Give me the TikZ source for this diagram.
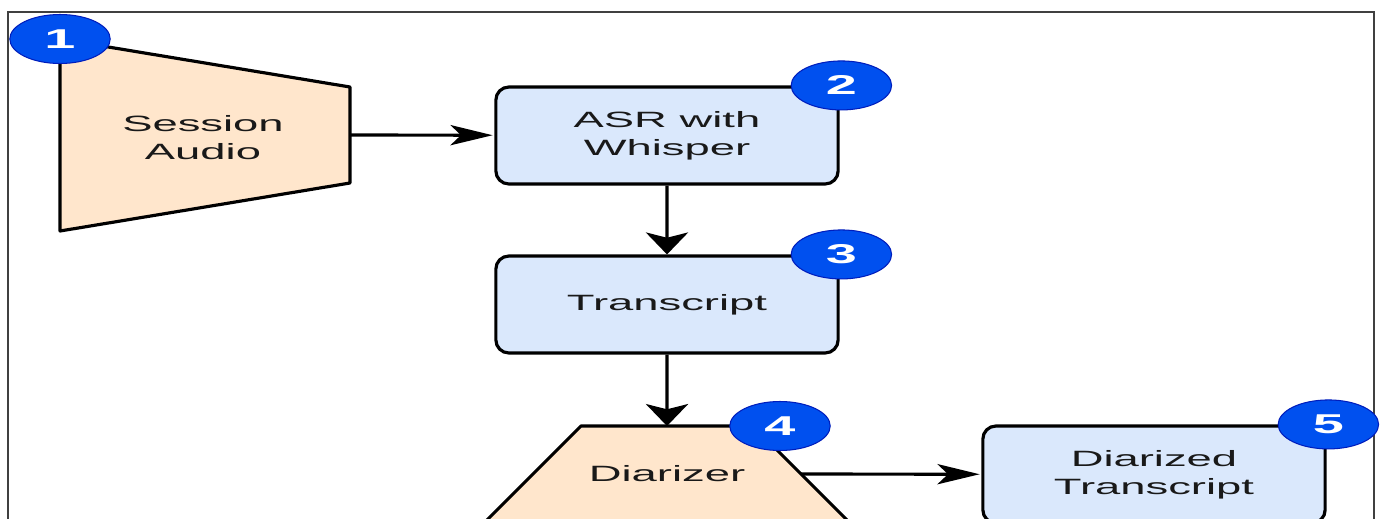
\documentclass[tikz,border=0pt]{standalone}
\usepackage{fontspec}
\setmainfont{Liberation Sans}
\usetikzlibrary{arrows.meta,positioning,shapes.geometric}
\definecolor{peach}{HTML}{FFE6CC}
\definecolor{paleblue}{HTML}{DAE8FC}
\definecolor{badgeblue}{HTML}{0050EF}
\definecolor{badgeedge}{HTML}{001DBC}
\tikzset{
stretched/.style={xscale=2.05},
boxtext/.style={stretched,align=center,font=\fontsize{12.6}{15.9}\selectfont,text=black!90},
stage/.style={boxtext,draw,fill=paleblue,rounded corners=0.26cm,minimum width=3.34cm,minimum height=1.94cm,line width=1.8pt},
block/.style={draw,fill=peach,line width=1.8pt,line join=round},
badge/.style={circle,stretched,fill=badgeblue,draw=badgeedge,line width=0.6pt,minimum size=0.98cm,inner sep=0pt,text=white,font=\fontsize{15.5}{16}\selectfont\bfseries},
harr/.style={line width=1.8pt,-{Stealth[length=24pt,width=11.5pt,inset=6pt]}},
varr/.style={line width=1.8pt,-{Stealth[length=12.5pt,width=24pt,inset=3pt]}},
}

\begin{document}
\begin{tikzpicture}[x=0.02cm,y=-0.02cm]
    \useasboundingbox (0,0) rectangle (1380,518);
    \clip (0,0) rectangle (1380,518);
    % outer frame, runs off below
    \draw[black!75,line width=0.8pt] (8,12) rectangle (1374,540);

    % audio input
    \draw[block] (60,39) -- (350,87) -- (350,183) -- (60,231) -- cycle;
    \node[boxtext] (audio) at (203,138) {Session\\Audio};
    \coordinate (audio out) at (350,135);

    \node[stage] (asr) at (667,135.5) {ASR with\\Whisper};
    \node[stage] (transcript) at (667,304.5) {Transcript};

    % diarizer, cut off at the bottom
    \draw[block] (581,426) -- (753,426) -- (855,528) -- (479,528) -- cycle;
    \node[boxtext] (diarizer) at (667,474) {Diarizer};
    \coordinate (diarizer in) at (667,426);
    \coordinate (diarizer out) at (801,474);

    \node[stage] (diarized) at (1154,474.5) {Diarized\\Transcript};

    \draw[harr] (audio out) -- (asr);
    \draw[varr] (asr) -- (transcript);
    \draw[varr] (transcript) -- (diarizer in);
    \draw[harr] (diarizer out) -- (diarized);

    % step numbers
    \node[badge] (n1) at (60,39) {1};
    \node[badge] (n2) at (asr.north east) {2};
    \node[badge] (n3) at (transcript.north east) {3};
    \node[badge] (n4) at (780,426) {4};
    \node[badge] (n5) at (diarized.north east) {5};
\end{tikzpicture}
\end{document}
